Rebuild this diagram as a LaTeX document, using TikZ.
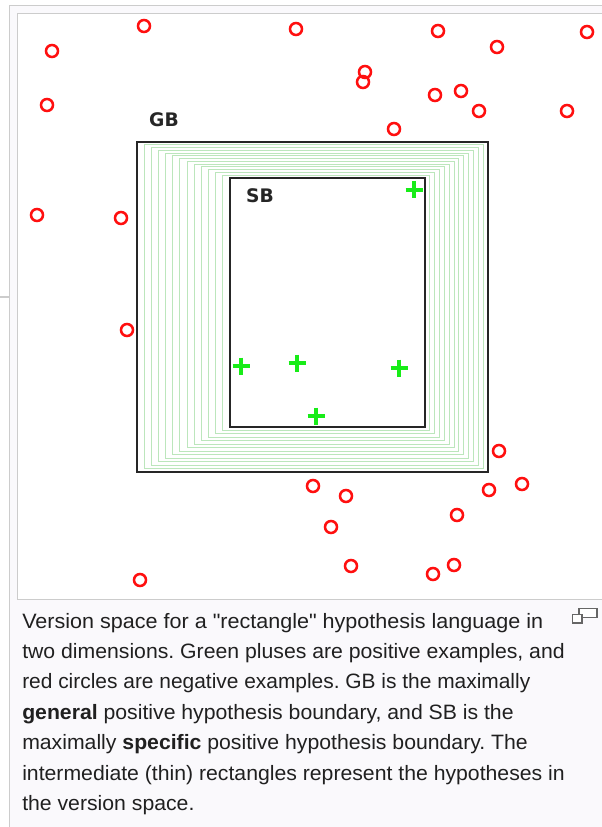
\documentclass[tikz,border=0pt]{standalone}
\usepackage{fontspec}
\usepackage{graphicx}
\setmainfont{Liberation Sans}
\newfontfamily\labfont{DejaVu Sans}
\newfontfamily\capfont[FakeStretch=1.02]{Liberation Sans}
\definecolor{framegray}{HTML}{CCCCCC}
\definecolor{capbg}{HTML}{FAF9FC}
\definecolor{negred}{HTML}{FF0F0F}
\definecolor{posgreen}{HTML}{18EC18}
\definecolor{hypgreen}{HTML}{BCE6BC}
\definecolor{captext}{HTML}{202020}
\tikzset{
  negex/.style={draw=negred, line width=1.9pt},
  posex/.style={draw=posgreen, line width=2.6pt},
  boundary/.style={draw=black!85, line width=1.9pt},
  hyprect/.style={draw=hypgreen, line width=0.7pt},
  bdlabel/.style={font=\labfont\bfseries\fontsize{14}{16}\selectfont, text=black!85, inner sep=0pt},
  capline/.style={anchor=base west, inner sep=0pt, text=captext, font=\capfont\fontsize{15.6}{18}\selectfont},
}
\begin{document}
\frenchspacing
\begin{tikzpicture}[x=0.75pt,y=-0.75pt]
\useasboundingbox (0,0) rectangle (601,827);
\fill[white] (0,0) rectangle (601,827);
% outer frame
\fill[capbg] (9,5) rectangle (610,840);
\draw[framegray, line width=1pt] (9.5,840) -- (9.5,5.5) -- (610,5.5);
\draw[framegray, line width=1pt] (0,297) -- (9,297);
% image panel
\fill[white] (17,13) rectangle (610,599);
\draw[framegray, line width=1pt] (17.5,599.5) -- (17.5,13.5) -- (610,13.5);
\draw[framegray, line width=1pt] (17.5,599.5) -- (610,599.5);
% intermediate hypotheses
\foreach \i in {1,...,12}{
  \pgfmathsetmacro{\t}{\i/13}
  \pgfmathsetmacro{\lx}{137+\t*(230-137)}
  \pgfmathsetmacro{\ty}{142+\t*(178-142)}
  \pgfmathsetmacro{\rx}{488+\t*(425-488)}
  \pgfmathsetmacro{\by}{472+\t*(427-472)}
  \draw[hyprect] (\lx,\ty) rectangle (\rx,\by);
}
% boundaries
\draw[boundary] (137,142) rectangle (488,472);
\draw[boundary] (230,178) rectangle (425,427);
\node[bdlabel] (gb) at (164,120) {GB};
\node[bdlabel] (sb) at (260,196) {SB};
% negative examples
\foreach \x/\y in {144/26, 52/51, 47/105, 296/29, 438/31, 497/47, 587/32,
  365/72, 363/82, 435/95, 461/91, 479/111, 567/111, 394/129, 37/215, 121/218,
  127/330, 499/451, 313/486, 346/496, 489/490, 522/484, 457/515, 331/527,
  351/566, 433/574, 454/565, 140/580}{
  \draw[negex] (\x,\y) circle[radius=6];
}
% positive examples
\foreach \x/\y in {414/190, 241/366, 297/363, 399/368, 316/416}{
  \draw[posex] (\x-8.5,\y) -- (\x+8.5,\y) (\x,\y-8.5) -- (\x,\y+8.5);
}
% enlarge icon
\draw[black!60, line width=0.9pt, fill=white] (579,608.5) rectangle (597,617.5);
\draw[black!60, line width=0.9pt, fill=white] (572.5,614.5) rectangle (582,623);
% caption
\node[capline] (c1) at (22,628) {\scalebox{1.016}[1]{Version space for a "rectangle" hypothesis language in}};
\node[capline] (c2) at (22,658.4) {two dimensions. Green pluses are positive examples, and};
\node[capline] (c3) at (22,688.8) {\scalebox{0.986}[1]{red circles are negative examples. GB is the maximally}};
\node[capline] (c4) at (22,719.2) {\textbf{general} positive hypothesis boundary, and SB is the};
\node[capline] (c5) at (22,749.6) {maximally \textbf{specific} positive hypothesis boundary. The};
\node[capline] (c6) at (22,780) {intermediate (thin) rectangles represent the hypotheses in};
\node[capline] (c7) at (22,810.4) {the version space.};
\end{tikzpicture}
\end{document}
